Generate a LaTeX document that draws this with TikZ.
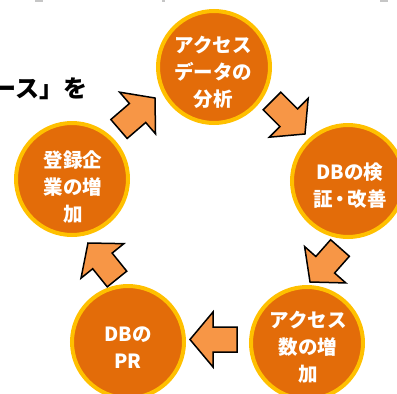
\documentclass[tikz,border=0pt]{standalone}
\usepackage{fontspec}
\newfontfamily\jp{Noto Sans CJK JP}
\usetikzlibrary{calc}
\definecolor{circfill}{HTML}{E36C09}
\definecolor{circline}{HTML}{FFC000}
\definecolor{arrfill}{HTML}{F79646}
\newcommand\blockarrow[2]{%
  \path ($(#2)!23pt!(#1)$) coordinate (h#1);
  \draw[flow] ($(#1)!12.5pt!90:(#2)$) -- ($(h#1)!12.5pt!90:(#2)$) -- ($(h#1)!27.5pt!90:(#2)$) -- (#2)
    -- ($(h#1)!27.5pt!-90:(#2)$) -- ($(h#1)!12.5pt!-90:(#2)$) -- ($(#1)!12.5pt!-90:(#2)$) -- cycle;}
\begin{document}
\begin{tikzpicture}[x=1pt,y=-1pt,
  stage/.style={circle, fill=circfill, draw=circline, line width=4pt, minimum size=112pt, inner sep=0pt},
  stagetext/.style={text=white, font=\jp\bfseries\fontsize{19.5}{27}\selectfont, align=center, inner sep=0pt},
  flow/.style={fill=arrfill, draw=black, line width=1.5pt, line join=miter}]
\useasboundingbox (0,0) rectangle (397,394);
\clip (0,0) rectangle (397,394);
% faint marks at the top edge
\fill[gray!45] (35,0) rectangle (43,1.5);
\fill[gray!45] (162,0) rectangle (165,1.5);
\fill[gray!45] (380,0) rectangle (388,1.5);
% lead text
\node[anchor=east, inner sep=0pt, font=\jp\bfseries\fontsize{24}{24}\selectfont] (lead) at (88,89) {ース」を};
% stages
\node[stage] (c1) at (214,67) {};
\node[stage] (c2) at (348,181) {};
\node[stage] (c3) at (307,343) {};
\node[stage] (c4) at (128,342) {};
\node[stage] (c5) at (72,179) {};
\node[stagetext] (t1) at (213,72) {アクセス\\データの\\分析};
\node[stagetext] (t2) at (350,186) {DBの検\\証\kern-2.5pt・\kern-2.5pt改善};
\node[stagetext] (t3) at (308,347) {アクセス\\数の増\\加};
\node[stagetext] (t4) at (128,348) {DBの\\PR};
\node[stagetext] (t5) at (73,187) {登録企\\業の増\\加};
% arrows
\coordinate (a1t) at (119,129); \coordinate (a1h) at (155,98);
\coordinate (a2t) at (272,101); \coordinate (a2h) at (305,134);
\coordinate (a3t) at (340,248); \coordinate (a3h) at (310,282);
\coordinate (a4t) at (237,339.5); \coordinate (a4h) at (190,339.5);
\coordinate (a5t) at (117,279); \coordinate (a5h) at (88,243);
\blockarrow{a1t}{a1h}
\blockarrow{a2t}{a2h}
\blockarrow{a3t}{a3h}
\blockarrow{a4t}{a4h}
\blockarrow{a5t}{a5h}
\end{tikzpicture}
\end{document}
